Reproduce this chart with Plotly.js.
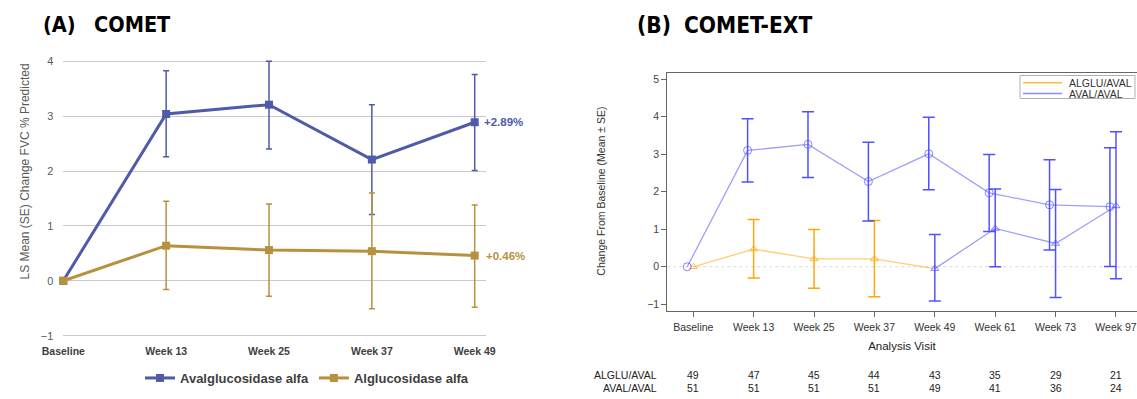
<!DOCTYPE html>
<html><head><meta charset="utf-8">
<script src="https://cdn.plot.ly/plotly-3.0.1.min.js"></script>
<style>html,body{margin:0;padding:0;background:#fff;overflow:hidden}</style>
</head><body><div id="chart" style="width:1137px;height:399px"></div>
<script>
// ---------- Panel A: COMET ----------
const catsA = ['Baseline','Week 13','Week 25','Week 37','Week 49'];
const avalA    = [0, 3.04, 3.21, 2.21, 2.89];
const avalA_hi = [null, 3.83, 4.00, 3.21, 3.76];
const avalA_lo = [null, 2.26, 2.40, 1.21, 2.01];
const alglA    = [0, 0.64, 0.56, 0.54, 0.46];
const alglA_hi = [null, 1.45, 1.40, 1.60, 1.38];
const alglA_lo = [null, -0.16, -0.28, -0.51, -0.48];
const labelsA  = ['+2.89%', '+0.46%'];
const yTicksA  = [-1, 0, 1, 2, 3, 4];

// ---------- Panel B: COMET-EXT ----------
const catsB = ['Baseline','Week 13','Week 25','Week 37','Week 49','Week 61','Week 73','Week 97'];
const avalB    = [0, 3.10, 3.26, 2.27, 3.01, 1.97, 1.65, 1.60];
const avalB_hi = [null, 3.94, 4.13, 3.32, 3.98, 2.99, 2.85, 3.17];
const avalB_lo = [null, 2.26, 2.38, 1.22, 2.05, 0.94, 0.45, 0.01];
const algluB    = [0, 0.47, 0.21, 0.21, -0.05];          // Baseline..Week 49
const algluB_hi = [null, 1.26, 0.99, 1.23];              // Baseline..Week 37
const algluB_lo = [null, -0.30, -0.57, -0.80];
const switchB    = [-0.05, 1.02, 0.62, 1.62];            // Week 49..Week 97
const switchB_hi = [0.86, 2.07, 2.06, 3.60];
const switchB_lo = [-0.91, 0.00, -0.82, -0.32];
const nAlglu = [49, 47, 45, 44, 43, 35, 29, 21];
const nAval  = [51, 51, 51, 51, 49, 41, 36, 24];
const yTicksB = [-1, 0, 1, 2, 3, 4, 5];
const legendB = ['ALGLU/AVAL', 'AVAL/AVAL'];

// ---------- helpers ----------
const W = 1137, H = 399;
const px = x => x / W, py = y => 1 - y / H;
const up = (v, hi) => hi.map((h, i) => h == null ? NaN : h - v[i]);
const dn = (v, lo) => lo.map((l, i) => l == null ? NaN : v[i] - l);
const idxA = catsA.map((_, i) => i);
const idxB = catsB.map((_, i) => i);

const BLUE_A = '#4F5AA8', GOLD_A = '#B8913E';
const OR_LINE = 'rgba(255,165,0,0.55)', OR_ERR = 'rgba(255,160,0,0.95)';
const BL_LINE = 'rgba(80,80,255,0.55)', BL_ERR = 'rgba(50,50,255,0.85)', BL_MK = 'rgba(70,70,255,0.65)';
const SANS = 'Liberation Sans, Arial, sans-serif';
const COND = 'DejaVu Sans Condensed, Liberation Sans, sans-serif';

const traces = [
  { name: 'Avalglucosidase alfa', x: idxA, y: avalA, xaxis: 'x', yaxis: 'y', legend: 'legend',
    mode: 'lines+markers', cliponaxis: false,
    line: { color: BLUE_A, width: 3 }, marker: { symbol: 'square', size: 8, color: BLUE_A },
    error_y: { type: 'data', symmetric: false, array: up(avalA, avalA_hi), arrayminus: dn(avalA, avalA_lo),
               color: BLUE_A, thickness: 1.5, width: 3 } },
  { name: 'Alglucosidase alfa', x: idxA, y: alglA, xaxis: 'x', yaxis: 'y', legend: 'legend',
    mode: 'lines+markers', cliponaxis: false,
    line: { color: GOLD_A, width: 3 }, marker: { symbol: 'square', size: 8, color: GOLD_A },
    error_y: { type: 'data', symmetric: false, array: up(alglA, alglA_hi), arrayminus: dn(alglA, alglA_lo),
               color: GOLD_A, thickness: 1.5, width: 3 } },

  { name: legendB[0], x: idxB.slice(0, 5), y: algluB, xaxis: 'x2', yaxis: 'y2', showlegend: false,
    mode: 'lines', line: { color: OR_LINE, width: 1.3 } },
  { name: legendB[0], x: idxB.slice(0, 4), y: algluB.slice(0, 4), xaxis: 'x2', yaxis: 'y2', showlegend: false,
    mode: 'markers', marker: { symbol: 'triangle-up-open', size: 7, color: 'rgba(255,165,0,0.7)' },
    error_y: { type: 'data', symmetric: false, array: up(algluB, algluB_hi), arrayminus: dn(algluB, algluB_lo),
               color: OR_ERR, thickness: 1.5, width: 6 } },
  { name: legendB[1], x: idxB.map(i => i - 0.1), y: avalB, xaxis: 'x2', yaxis: 'y2', showlegend: false,
    mode: 'lines+markers', line: { color: BL_LINE, width: 1.3 },
    marker: { symbol: 'circle-open', size: 8, color: BL_MK },
    error_y: { type: 'data', symmetric: false, array: up(avalB, avalB_hi), arrayminus: dn(avalB, avalB_lo),
               color: BL_ERR, thickness: 1.5, width: 6 } },
  { name: legendB[0] + ' (switched to AVAL)', x: idxB.slice(4), y: switchB, xaxis: 'x2', yaxis: 'y2', showlegend: false,
    mode: 'lines+markers', line: { color: BL_LINE, width: 1.3 },
    marker: { symbol: 'triangle-up-open', size: 7, color: BL_MK },
    error_y: { type: 'data', symmetric: false, array: up(switchB, switchB_hi), arrayminus: dn(switchB, switchB_lo),
               color: BL_ERR, thickness: 1.5, width: 6 } }
];

const annotations = [
  { text: '(A)', x: px(41), y: py(25), xref: 'paper', yref: 'paper', xanchor: 'left', yanchor: 'middle', showarrow: false,
    font: { family: COND, size: 21.5, color: '#000', weight: 'bold' } },
  { text: 'COMET', x: px(92), y: py(25), xref: 'paper', yref: 'paper', xanchor: 'left', yanchor: 'middle', showarrow: false,
    font: { family: COND, size: 21.5, color: '#000', weight: 'bold' } },
  { text: '(B)', x: px(635), y: py(25), xref: 'paper', yref: 'paper', xanchor: 'left', yanchor: 'middle', showarrow: false,
    font: { family: COND, size: 22.5, color: '#000', weight: 'bold' } },
  { text: 'COMET-EXT', x: px(682), y: py(25), xref: 'paper', yref: 'paper', xanchor: 'left', yanchor: 'middle', showarrow: false,
    font: { family: COND, size: 22.5, color: '#000', weight: 'bold' } },
  { text: 'LS Mean (SE) Change FVC % Predicted', x: px(15), y: py(171.5), xref: 'paper', yref: 'paper', textangle: -90,
    showarrow: false, font: { family: SANS, size: 12, color: '#595959' } },
  { text: labelsA[0], x: 4, y: avalA[4], xref: 'x', yref: 'y', xanchor: 'left', xshift: 7, showarrow: false,
    font: { family: SANS, size: 11.5, color: BLUE_A, weight: 'bold' } },
  { text: labelsA[1], x: 4, y: alglA[4], xref: 'x', yref: 'y', xanchor: 'left', xshift: 9, showarrow: false,
    font: { family: SANS, size: 11.5, color: GOLD_A, weight: 'bold' } },
  { text: 'Change From Baseline (Mean ± SE)', x: px(601), y: py(191.7), xref: 'paper', yref: 'paper', textangle: -90,
    showarrow: false, font: { family: SANS, size: 10.5, color: '#333' } },
  { text: legendB[0], x: px(659), y: py(383), xref: 'paper', yref: 'paper', xanchor: 'right', showarrow: false,
    font: { family: SANS, size: 10.5, color: '#222' } },
  { text: legendB[1], x: px(659), y: py(396), xref: 'paper', yref: 'paper', xanchor: 'right', showarrow: false,
    font: { family: SANS, size: 10.5, color: '#222' } },
  // legend text for panel B
  { text: legendB[0], x: px(1067), y: py(82.7), xref: 'paper', yref: 'paper', xanchor: 'left', yanchor: 'middle', showarrow: false,
    font: { family: SANS, size: 10.5, color: '#333' } },
  { text: legendB[1], x: px(1067), y: py(93.6), xref: 'paper', yref: 'paper', xanchor: 'left', yanchor: 'middle', showarrow: false,
    font: { family: SANS, size: 10.5, color: '#333' } }
];
idxB.forEach(i => {
  annotations.push({ text: String(nAlglu[i]), x: i, y: py(383), xref: 'x2', yref: 'paper', showarrow: false,
    font: { family: SANS, size: 10.5, color: '#222' } });
  annotations.push({ text: String(nAval[i]), x: i, y: py(396), xref: 'x2', yref: 'paper', showarrow: false,
    font: { family: SANS, size: 10.5, color: '#222' } });
});

const layout = {
  width: W, height: H, autosize: false,
  margin: { l: 0, r: 0, t: 0, b: 0 },
  paper_bgcolor: '#fff', plot_bgcolor: 'rgba(0,0,0,0)',
  xaxis: { domain: [px(63.3), px(485.7)], range: [0, 4.107], anchor: 'y',
    tickvals: idxA, ticktext: catsA, ticks: '', showgrid: false, zeroline: false, showline: false,
    tickfont: { family: SANS, size: 10.5, color: '#404040', weight: 'bold' }, ticklabelstandoff: 5 },
  yaxis: { domain: [py(338.4), py(58.6)], range: [-1.05, 4.05], anchor: 'x',
    tickvals: yTicksA, ticks: '', showgrid: true, gridcolor: '#CACACA', gridwidth: 1, zeroline: false, showline: false,
    tickfont: { family: SANS, size: 11, color: '#595959' }, ticklabelstandoff: 9 },
  xaxis2: { domain: [px(667.3), px(1136.5)], range: [-0.43, 7.34], anchor: 'y2',
    tickvals: idxB, ticktext: catsB, ticks: 'outside', ticklen: 5, tickcolor: '#666',
    showline: true, linecolor: '#666', linewidth: 1, mirror: true, showgrid: false, zeroline: false,
    ticklabeloverflow: 'allow', ticklabelstandoff: 2,
    tickfont: { family: SANS, size: 10.5, color: '#333' },
    title: { text: 'Analysis Visit', font: { family: SANS, size: 11.5, color: '#222' }, standoff: 9 } },
  yaxis2: { domain: [py(310.7), py(72.7)], range: [-1.17, 5.17], anchor: 'x2',
    tickvals: yTicksB, ticks: 'outside', ticklen: 5, tickcolor: '#666',
    showline: true, linecolor: '#666', linewidth: 1, mirror: false, showgrid: false, zeroline: false,
    tickfont: { family: SANS, size: 10.5, color: '#444' } },
  shapes: [
    { type: 'line', xref: 'x2 domain', yref: 'y2', x0: 0, x1: 1, y0: 0, y1: 0,
      line: { color: '#d8d8d8', width: 1, dash: 'dot' }, layer: 'below' },
    // legend box for panel B
    { type: 'rect', xref: 'paper', yref: 'paper', x0: px(1020), x1: px(1135), y0: py(98.5), y1: py(75.5),
      line: { color: '#b0b0b0', width: 1 }, fillcolor: '#fff' },
    { type: 'line', xref: 'paper', yref: 'paper', x0: px(1023), x1: px(1062), y0: py(82.7), y1: py(82.7),
      line: { color: 'rgba(255,165,0,0.75)', width: 1.5 } },
    { type: 'line', xref: 'paper', yref: 'paper', x0: px(1023), x1: px(1062), y0: py(93.6), y1: py(93.6),
      line: { color: 'rgba(80,80,255,0.65)', width: 1.5 } }
  ],
  legend: { x: px(140), y: py(378), xanchor: 'left', yanchor: 'middle', orientation: 'h',
    font: { family: SANS, size: 13, color: '#404040', weight: 'bold' }, itemwidth: 30, bgcolor: 'rgba(0,0,0,0)' },
  annotations: annotations,
  showlegend: true
};

Plotly.newPlot('chart', traces, layout, { staticPlot: true, displayModeBar: false });
</script></body></html>
